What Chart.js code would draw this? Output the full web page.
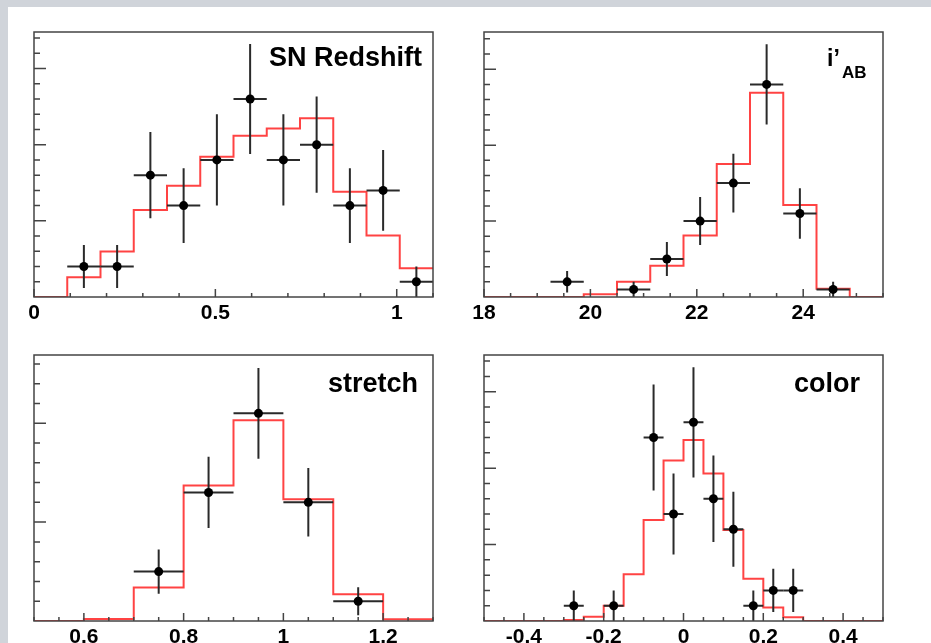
<!DOCTYPE html>
<html>
<head>
<meta charset="utf-8">
<title>SN sample distributions</title>
<script src="https://cdn.jsdelivr.net/npm/chart.js@4.4.1/dist/chart.umd.min.js"></script>
<style>
  html, body { margin: 0; padding: 0; }
  body { width: 931px; height: 643px; background: #d0d4da; position: relative; overflow: hidden; }
  #sheet { position: absolute; left: 8px; top: 7px; right: 0; bottom: 0; background: #fff; }
  canvas { position: absolute; }
</style>
</head>
<body>
<div id="sheet"></div>
<canvas id="zChart" width="460" height="330" style="left:0;top:0"></canvas>
<canvas id="magChart" width="471" height="330" style="left:460px;top:0"></canvas>
<canvas id="stretchChart" width="460" height="313" style="left:0;top:330px"></canvas>
<canvas id="colorChart" width="471" height="313" style="left:460px;top:330px"></canvas>
<script>
// binning: [low, high, number of bins]
const zBins = [0, 1.1, 12];
const magBins = [18, 25.5, 12];
const stretchBins = [0.5, 1.3, 8];
const colorBins = [-0.5, 0.5, 20];

// observed counts per bin
const zCounts = [0, 2, 2, 8, 6, 9, 13, 9, 10, 6, 7, 1];
const magCounts = [0, 0, 2, 0, 1, 5, 10, 15, 28, 11, 1, 0];
const stretchCounts = [0, 0, 5, 13, 21, 12, 2, 0];
const colorCounts = [0, 0, 0, 0, 1, 0, 1, 0, 12, 7, 13, 8, 6, 1, 2, 2, 0, 0, 0, 0];

// simulated distribution (red histogram)
const zModel = [0, 1.29, 2.98, 5.71, 7.31, 9.21, 10.59, 11.07, 11.73, 6.91, 4.03, 1.88];
const magModel = [0, 0, 0, 0.35, 2.0, 4.1, 8.1, 17.5, 26.9, 12.1, 1.1, 0];
const stretchModel = [0, 0.2, 3.4, 13.7, 20.3, 12.3, 2.7, 0.17];
const colorModel = [0, 0, 0, 0, 0.07, 0.28, 1.0, 3.06, 6.6, 10.5, 11.84, 9.65, 5.95, 2.76, 0.88, 0.24, 0, 0, 0, 0];

// labelled x ticks
const zTicks = [0, 0.5, 1];
const magTicks = [18, 20, 22, 24];
const stretchTicks = [0.6, 0.8, 1, 1.2];
const colorTicks = [-0.4, -0.2, 0, 0.2, 0.4];

const FONT = "'Liberation Sans', Arial, Helvetica, sans-serif";

function binEdges(bins) {
  const [lo, hi, n] = bins;
  const out = [];
  for (let i = 0; i <= n; i++) out.push(lo + (hi - lo) * i / n);
  return out;
}

// frame, tick marks, error bars and the panel title
const rootStyle = {
  id: 'rootStyle',
  beforeDatasetDraw(chart, args, opts) {
    if (args.meta.label !== 'data') return;
    const { ctx, scales: { x, y } } = chart;
    const half = opts.binWidth / 2;
    ctx.save();
    ctx.strokeStyle = '#2a2a2a';
    ctx.lineWidth = 2;
    for (const p of chart.data.datasets[args.index].data) {
      const e = Math.sqrt(p.y);
      ctx.beginPath();
      ctx.moveTo(x.getPixelForValue(p.x - half), y.getPixelForValue(p.y));
      ctx.lineTo(x.getPixelForValue(p.x + half), y.getPixelForValue(p.y));
      ctx.moveTo(x.getPixelForValue(p.x), y.getPixelForValue(p.y - e));
      ctx.lineTo(x.getPixelForValue(p.x), y.getPixelForValue(p.y + e));
      ctx.stroke();
    }
    ctx.restore();
  },
  afterDraw(chart, args, opts) {
    const { ctx, chartArea: a, scales: { x, y } } = chart;
    ctx.save();
    ctx.strokeStyle = '#444';
    ctx.lineWidth = 1.5;
    ctx.strokeRect(a.left, a.top, a.right - a.left, a.bottom - a.top);

    // y ticks on the left edge
    ctx.beginPath();
    for (let k = 1; k * opts.yStep <= y.max; k++) {
      const py = y.getPixelForValue(k * opts.yStep);
      const len = k % 5 === 0 ? 12 : 6;
      ctx.moveTo(a.left, py);
      ctx.lineTo(a.left + len, py);
    }
    // x ticks on the bottom edge
    const k0 = Math.ceil(x.min / opts.xStep - 1e-6);
    const k1 = Math.floor(x.max / opts.xStep + 1e-6);
    for (let k = k0; k <= k1; k++) {
      const v = k * opts.xStep;
      const major = opts.majors.some(m => Math.abs(m - v) < 1e-6);
      const px = x.getPixelForValue(v);
      ctx.moveTo(px, a.bottom);
      ctx.lineTo(px, a.bottom - (major ? 8 : 4));
    }
    ctx.stroke();

    ctx.fillStyle = '#000';
    ctx.textBaseline = 'alphabetic';
    for (const t of opts.title) {
      ctx.font = 'bold ' + t.size + 'px ' + FONT;
      ctx.fillText(t.text, t.x, t.y);
    }
    ctx.restore();
  }
};

function makePanel(id, bins, counts, model, majors, o) {
  const edges = binEdges(bins);
  const width = (bins[1] - bins[0]) / bins[2];
  const points = [];
  counts.forEach((c, i) => {
    if (c > 0) points.push({ x: edges[i] + width / 2, y: c });
  });
  const steps = edges.map((e, i) => ({ x: e, y: model[Math.min(i, model.length - 1)] }));

  new Chart(document.getElementById(id), {
    type: 'scatter',
    data: {
      datasets: [
        {
          label: 'data',
          data: points,
          pointRadius: 4.5,
          pointHoverRadius: 4.5,
          pointBorderWidth: 0,
          pointBackgroundColor: '#000'
        },
        {
          type: 'line',
          label: 'model',
          data: steps,
          stepped: true,
          borderColor: 'rgba(255, 20, 20, 0.8)',
          borderWidth: 2,
          pointRadius: 0,
          fill: false
        }
      ]
    },
    options: {
      responsive: false,
      animation: false,
      events: [],
      devicePixelRatio: 1,
      layout: { padding: { left: o.pad[0], right: o.pad[1], top: o.pad[2], bottom: 0 } },
      plugins: {
        legend: { display: false },
        tooltip: { enabled: false },
        rootStyle: { binWidth: width, yStep: o.yStep, xStep: o.xStep, majors: majors, title: o.title }
      },
      scales: {
        x: {
          type: 'linear',
          min: bins[0],
          max: bins[1],
          grid: { display: false },
          border: { display: false },
          afterBuildTicks: s => { s.ticks = majors.map(v => ({ value: v })); },
          afterFit: s => { s.height = o.axisH; },
          ticks: {
            autoSkip: false,
            maxRotation: 0,
            padding: -4,
            color: '#000',
            font: { family: FONT, weight: 'bold', size: 21 },
            callback: v => String(Math.round(v * 10) / 10)
          }
        },
        y: { type: 'linear', display: false, min: 0, max: o.yMax }
      }
    },
    plugins: [rootStyle]
  });
}

makePanel('zChart', zBins, zCounts, zModel, zTicks, {
  pad: [34, 27, 32], axisH: 33, yMax: 17.4, yStep: 1, xStep: 0.1,
  title: [{ text: 'SN Redshift', size: 27, x: 269, y: 66 }]
});
makePanel('magChart', magBins, magCounts, magModel, magTicks, {
  pad: [24, 48, 32], axisH: 33, yMax: 34.9, yStep: 2, xStep: 0.5,
  title: [{ text: 'i’', size: 23, x: 367, y: 66 }, { text: 'AB', size: 17, x: 382, y: 78 }]
});
makePanel('stretchChart', stretchBins, stretchCounts, stretchModel, stretchTicks, {
  pad: [34, 27, 25], axisH: 22, yMax: 26.9, yStep: 2, xStep: 0.05,
  title: [{ text: 'stretch', size: 27, x: 328, y: 62 }]
});
makePanel('colorChart', colorBins, colorCounts, colorModel, colorTicks, {
  pad: [24, 48, 25], axisH: 22, yMax: 17.4, yStep: 1, xStep: 0.05,
  title: [{ text: 'color', size: 27, x: 334, y: 62 }]
});
</script>
</body>
</html>
